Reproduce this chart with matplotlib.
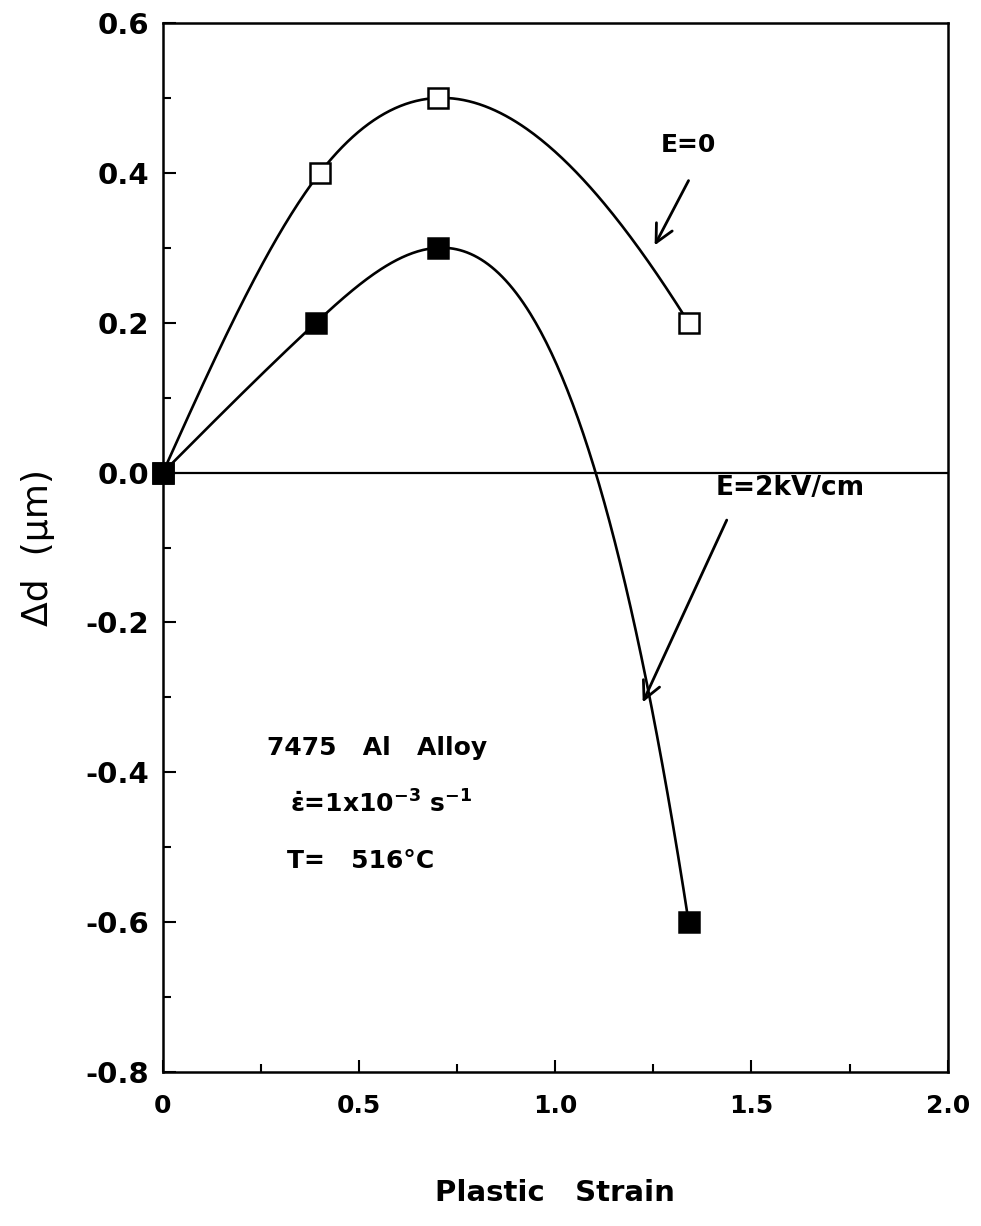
import numpy as np
import matplotlib.pyplot as plt

# data
strain_e0 = [0.0, 0.40, 0.70, 1.34]
dd_e0 = [0.0, 0.40, 0.50, 0.20]
strain_e2 = [0.0, 0.39, 0.70, 1.34]
dd_e2 = [0.0, 0.20, 0.30, -0.60]

xticks = [0, 0.5, 1.0, 1.5, 2.0]
xtick_labels = ['0', '0.5', '1.0', '1.5', '2.0']
yticks = [0.6, 0.4, 0.2, 0.0, -0.2, -0.4, -0.6, -0.8]
ytick_labels = ['0.6', '0.4', '0.2', '0.0', '-0.2', '-0.4', '-0.6', '-0.8']


def guide_spline(x, y, xf):
    # cubic spline: natural at the start, not-a-knot at the end
    x = np.asarray(x, float)
    y = np.asarray(y, float)
    n = len(x)
    h = np.diff(x)
    A = np.zeros((n, n))
    r = np.zeros(n)
    A[0, 0] = 1
    for i in range(1, n - 1):
        A[i, i - 1] = h[i - 1]
        A[i, i] = 2 * (h[i - 1] + h[i])
        A[i, i + 1] = h[i]
        r[i] = 6 * ((y[i + 1] - y[i]) / h[i] - (y[i] - y[i - 1]) / h[i - 1])
    A[-1, -1] = 1 / h[-1]
    A[-1, -2] = -1 / h[-1] - 1 / h[-2]
    A[-1, -3] = 1 / h[-2]
    M = np.linalg.solve(A, r)
    idx = np.clip(np.searchsorted(x, xf) - 1, 0, n - 2)
    x0, x1, hh = x[idx], x[idx + 1], h[idx]
    return (M[idx] * (x1 - xf) ** 3 / (6 * hh) + M[idx + 1] * (xf - x0) ** 3 / (6 * hh)
            + (y[idx] / hh - M[idx] * hh / 6) * (x1 - xf)
            + (y[idx + 1] / hh - M[idx + 1] * hh / 6) * (xf - x0))


plt.rcParams['mathtext.default'] = 'bf'

fig = plt.figure(figsize=(9.81, 12.26), dpi=100)
ax = fig.add_axes([0.166, 0.1256, 0.800, 0.8556])

for xs, ys, face in [(strain_e0, dd_e0, 'white'), (strain_e2, dd_e2, 'black')]:
    xf = np.linspace(min(xs), max(xs), 300)
    ax.plot(xf, guide_spline(xs, ys, xf), color='black', lw=1.9, zorder=2)
    ax.plot(xs, ys, ls='none', marker='s', markersize=15, markerfacecolor=face,
            markeredgecolor='black', markeredgewidth=1.8, zorder=3, clip_on=False)

ax.axhline(0, color='black', lw=1.6, zorder=1)

ax.set_xlim(0, 2.0)
ax.set_ylim(-0.8, 0.6)
ax.set_xticks(xticks)
ax.set_xticklabels(xtick_labels, fontsize=18, fontweight='bold')
ax.set_yticks(yticks)
ax.set_yticklabels(ytick_labels, fontsize=21, fontweight='bold')
ax.set_xticks(np.arange(0.25, 2.0, 0.5), minor=True)
ax.set_yticks(np.arange(-0.7, 0.6, 0.2), minor=True)
ax.tick_params(which='both', direction='in', top=False, right=False, width=1.5)
ax.tick_params(which='major', length=9)
ax.tick_params(which='minor', length=6)
ax.tick_params(axis='x', pad=16)
ax.tick_params(axis='y', pad=10)
for s in ax.spines.values():
    s.set_linewidth(1.8)

ax.set_xlabel('Plastic   Strain', fontsize=21, fontweight='bold', labelpad=44)
ax.set_ylabel('\u0394d  (\u03bcm)', fontsize=26, labelpad=22)

# labels with arrows
ax.text(1.34, 0.437, 'E=0', fontsize=18, fontweight='bold', ha='center', va='center')
ax.annotate('', xy=(1.25, 0.30), xytext=(1.343, 0.393),
            arrowprops=dict(arrowstyle='->', lw=2, mutation_scale=32, color='black'))
ax.text(1.60, -0.021, 'E=2kV/cm', fontsize=19, fontweight='bold', ha='center', va='center')
ax.annotate('', xy=(1.22, -0.31), xytext=(1.44, -0.06),
            arrowprops=dict(arrowstyle='->', lw=2, mutation_scale=32, color='black'))

ax.text(0.266, -0.368, '7475   Al   Alloy', fontsize=18, fontweight='bold', va='center')
ax.text(0.325, -0.442, r'$\dot{\varepsilon}$=1x10$^{-3}$ s$^{-1}$', fontsize=18,
        fontweight='bold', va='center')
ax.text(0.317, -0.518, 'T=   516\u00b0C', fontsize=18, fontweight='bold', va='center')

fig.savefig('out.png', dpi=100)
